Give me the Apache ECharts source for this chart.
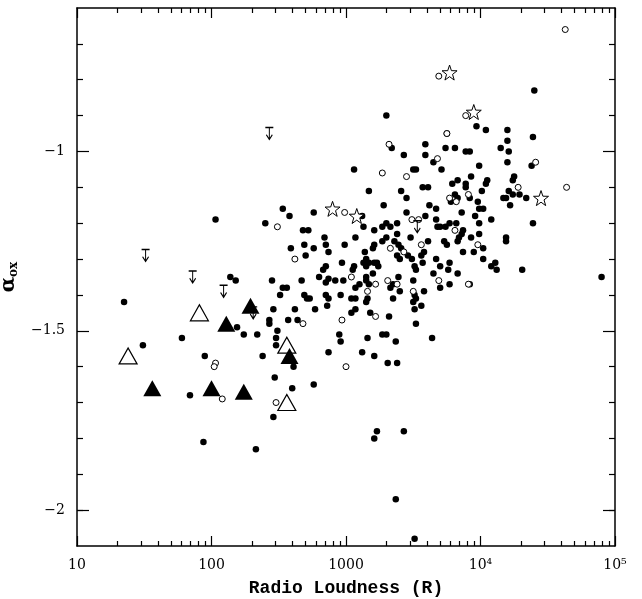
<!DOCTYPE html>
<html>
<head>
<meta charset="utf-8">
<script src="https://cdn.jsdelivr.net/npm/echarts@6/dist/echarts.min.js"></script>
<style>
  html, body { margin: 0; padding: 0; background: #fff; }
  #chart { width: 642px; height: 599px; }
</style>
</head>
<body>
<div id="chart"></div>
<script>
// values are [log10(R), alpha_ox]
var dots = [
  [1.35,-1.42],[1.78,-1.52],[1.49,-1.54],[1.95,-1.57],[1.84,-1.68],[1.94,-1.81],
  [2.03,-1.19],[2.40,-1.20],[2.53,-1.16],[2.58,-1.18],[2.76,-1.17],[2.68,-1.22],[2.72,-1.22],[2.84,-1.24],
  [2.59,-1.27],[2.69,-1.26],[2.76,-1.27],[2.85,-1.26],[2.87,-1.28],[2.70,-1.29],[2.99,-1.26],[2.97,-1.31],[2.85,-1.32],
  [2.14,-1.35],[2.18,-1.36],[2.19,-1.49],[2.24,-1.51],[2.34,-1.51],[2.33,-1.83],[2.45,-1.36],[2.53,-1.38],
  [2.56,-1.38],[2.51,-1.40],[2.46,-1.44],[2.62,-1.44],[2.43,-1.47],[2.43,-1.48],[2.49,-1.50],[2.57,-1.47],
  [2.64,-1.47],[2.48,-1.52],[2.48,-1.54],[2.38,-1.57],[2.61,-1.60],[2.47,-1.63],[2.60,-1.66],[2.76,-1.65],[2.46,-1.74],
  [2.67,-1.36],[2.80,-1.35],[2.83,-1.33],[2.85,-1.365],[2.87,-1.355],[2.92,-1.36],[2.69,-1.40],[2.71,-1.41],
  [2.73,-1.41],[2.77,-1.44],[2.85,-1.40],[2.87,-1.41],[2.86,-1.43],[2.96,-1.40],[2.98,-1.36],[2.95,-1.51],[2.96,-1.53],[2.87,-1.56],
  [3.30,-0.90],[3.34,-0.99],[3.43,-1.01],[3.06,-1.05],[3.50,-1.05],[3.17,-1.11],[3.41,-1.11],[3.45,-1.13],
  [3.28,-1.15],[3.12,-1.18],[3.45,-1.17],[3.13,-1.21],[3.21,-1.22],[3.27,-1.21],[3.30,-1.20],[3.33,-1.21],[3.38,-1.20],[3.38,-1.23],
  [3.07,-1.24],[3.27,-1.25],[3.30,-1.24],[3.36,-1.25],[3.48,-1.24],[3.39,-1.26],[3.41,-1.27],[3.20,-1.27],
  [3.21,-1.26],[3.14,-1.28],[3.38,-1.29],[3.40,-1.30],[3.46,-1.29],[3.49,-1.30],[3.51,-1.32],[3.52,-1.33],
  [3.13,-1.31],[3.15,-1.30],[3.17,-1.31],[3.21,-1.31],[3.23,-1.31],[3.24,-1.32],[3.06,-1.32],[3.05,-1.33],
  [3.15,-1.32],[3.39,-1.35],[3.15,-1.35],[3.15,-1.36],[3.20,-1.34],[3.17,-1.37],[3.07,-1.38],[3.10,-1.37],
  [3.33,-1.38],[3.35,-1.37],[3.40,-1.39],[3.50,-1.36],[3.04,-1.41],[3.07,-1.41],[3.15,-1.42],[3.16,-1.41],
  [3.35,-1.41],[3.52,-1.41],[3.50,-1.42],[3.04,-1.45],[3.07,-1.44],[3.18,-1.45],[3.32,-1.46],[3.52,-1.48],
  [3.27,-1.51],[3.30,-1.51],[3.16,-1.52],[3.37,-1.53],
  [3.12,-1.56],[3.21,-1.57],[3.31,-1.59],[3.38,-1.59],[3.23,-1.78],[3.21,-1.80],[3.43,-1.78],[3.37,-1.97],[3.51,-2.08],
  [3.97,-0.93],[4.04,-0.94],[3.75,-0.95],[4.15,-0.99],[3.59,-0.98],[3.81,-0.99],[3.74,-0.99],[3.89,-1.00],
  [3.92,-1.00],[3.59,-1.01],[3.65,-1.03],[3.71,-1.05],[3.99,-1.04],[3.52,-1.05],[3.93,-1.07],[4.05,-1.08],
  [4.04,-1.09],[3.83,-1.08],[3.79,-1.09],[3.89,-1.09],[3.89,-1.10],[3.57,-1.10],[3.61,-1.10],[3.81,-1.12],[4.01,-1.11],
  [3.92,-1.13],[3.78,-1.14],[3.83,-1.13],[3.98,-1.14],[3.99,-1.16],[4.02,-1.16],[3.62,-1.15],[3.67,-1.16],
  [3.86,-1.17],[3.96,-1.18],[3.59,-1.18],[3.67,-1.19],[3.77,-1.20],[3.82,-1.20],[4.08,-1.19],[3.68,-1.21],
  [3.70,-1.21],[3.74,-1.21],[3.87,-1.22],[3.86,-1.23],[3.99,-1.20],[3.99,-1.23],[3.93,-1.24],[3.83,-1.25],
  [3.84,-1.24],[3.61,-1.25],[3.73,-1.25],[3.75,-1.26],[3.95,-1.28],[4.02,-1.27],[4.02,-1.30],[3.87,-1.28],
  [3.58,-1.28],[3.56,-1.29],[3.57,-1.31],[3.67,-1.30],[3.70,-1.32],[3.77,-1.31],[3.76,-1.33],[4.11,-1.31],
  [4.08,-1.32],[4.12,-1.33],[3.83,-1.34],[3.65,-1.34],[3.77,-1.37],[3.92,-1.37],[3.70,-1.38],[3.58,-1.39],
  [3.51,-1.40],[3.56,-1.43],[3.51,-1.44],[3.64,-1.52],
  [4.40,-0.83],[4.20,-0.94],[4.20,-0.97],[4.21,-1.00],[4.39,-0.96],[4.20,-1.03],[4.38,-1.04],[4.25,-1.07],
  [4.24,-1.08],[4.21,-1.11],[4.24,-1.12],[4.29,-1.12],[4.19,-1.13],[4.17,-1.13],[4.22,-1.15],[4.34,-1.13],
  [4.39,-1.20],[4.19,-1.24],[4.19,-1.25],[4.31,-1.33],[4.90,-1.35]
];
var openCircles = [
  [2.49,-1.21],[2.62,-1.30],[2.03,-1.59],[2.02,-1.60],[2.08,-1.69],[2.68,-1.48],[2.48,-1.70],[2.97,-1.47],
  [3.00,-1.60],[2.99,-1.17],[3.32,-0.98],[3.27,-1.06],[3.45,-1.07],[3.49,-1.19],[3.54,-1.19],[3.33,-1.27],
  [3.43,-1.28],[3.04,-1.35],[3.31,-1.36],[3.22,-1.37],[3.16,-1.39],[3.38,-1.37],[3.50,-1.39],[3.22,-1.46],
  [3.69,-0.79],[3.89,-0.90],[3.75,-0.95],[3.68,-1.02],[3.91,-1.12],[3.77,-1.13],[3.82,-1.14],[3.81,-1.22],
  [3.56,-1.26],[3.98,-1.26],[3.69,-1.36],[3.91,-1.37],[4.63,-0.66],[4.41,-1.03],[4.28,-1.10],[4.64,-1.10]
];
var stars = [[2.90,-1.16],[3.08,-1.18],[3.77,-0.78],[3.95,-0.89],[4.45,-1.13]];
var openTriangles = [[1.38,-1.57],[1.91,-1.45],[2.56,-1.54],[2.56,-1.70]];
var filledTriangles = [[1.56,-1.66],[2.00,-1.66],[2.11,-1.48],[2.29,-1.43],[2.24,-1.67],[2.58,-1.57]];
var upperLimits = [[1.51,-1.29],[1.86,-1.35],[2.09,-1.39],[2.31,-1.45],[2.43,-0.95],[3.53,-1.21]];

var xTickLabels = ['10', '100', '1000', '10\u2074', '10\u2075'];
var yTickValues = [-2, -1.5, -1];
var yTickLabels = ['\u22122', '\u22121.5', '\u22121'];
var yMinorValues = [-2.0, -1.9, -1.8, -1.7, -1.6, -1.4, -1.3, -1.2, -1.1, -0.9, -0.8, -0.7];

// log-spaced minor ticks 2..9 in each decade
var xMinorValues = [];
for (var d = 1; d < 5; d++) {
    for (var k = 2; k <= 9; k++) {
        xMinorValues.push(d + Math.log10(k));
    }
}

var chart = echarts.init(document.getElementById('chart'));

function xAx(pos, major, labels) {
    var a = {
        type: 'value', position: pos, min: 1, max: 5,
        splitLine: { show: false },
        axisLine: { show: major, lineStyle: { color: '#000', width: 1.5 } },
        axisTick: { show: true, inside: true, length: major ? 10 : 5, lineStyle: { color: '#000', width: 1.2 } },
        axisLabel: { show: false }
    };
    if (major) {
        a.interval = 1;
    } else {
        a.axisTick.customValues = xMinorValues;
    }
    if (labels) {
        a.axisLabel = {
            show: true, color: '#000', fontFamily: 'DejaVu Serif', fontSize: 14, margin: 12,
            formatter: function (v) { return xTickLabels[Math.round(v) - 1]; }
        };
        a.name = 'Radio Loudness (R)';
        a.nameLocation = 'middle';
        a.nameGap = 33;
        a.nameTextStyle = { color: '#000', fontFamily: 'Liberation Mono', fontWeight: 'bold', fontSize: 18 };
    }
    return a;
}

function yAx(pos, major, labels) {
    var a = {
        type: 'value', position: pos, min: -2.1, max: -0.6,
        splitLine: { show: false },
        axisLine: { show: major, lineStyle: { color: '#000', width: 1.5 } },
        axisTick: { show: true, inside: true, length: major ? 12 : 6, lineStyle: { color: '#000', width: 1.2 },
            customValues: major ? yTickValues : yMinorValues },
        axisLabel: { show: false }
    };
    if (labels) {
        a.axisLabel = {
            show: true, color: '#000', fontFamily: 'DejaVu Serif', fontSize: 14, margin: 12,
            customValues: yTickValues,
            formatter: function (v) {
                var i = yTickValues.indexOf(Math.round(v * 10) / 10);
                return i >= 0 ? yTickLabels[i] : '';
            }
        };
        a.name = '{a|\u03b1}{s|ox}';
        a.nameLocation = 'middle';
        a.nameRotate = 90;
        a.nameGap = 50;
        a.nameTextStyle = {
            rich: {
                a: { fontFamily: 'DejaVu Serif', fontWeight: 'bold', fontSize: 20, color: '#000' },
                s: { fontFamily: 'DejaVu Serif', fontWeight: 'bold', fontSize: 12, color: '#000', padding: [10, 0, 0, 0] }
            }
        };
    }
    return a;
}

var option = {
    animation: false,
    backgroundColor: '#fff',
    grid: { left: 77, right: 27, top: 8, bottom: 53, containLabel: false, outerBoundsMode: 'none' },
    xAxis: [xAx('bottom', true, true), xAx('top', true, false), xAx('bottom', false, false), xAx('top', false, false)],
    yAxis: [yAx('left', true, true), yAx('right', true, false), yAx('left', false, false), yAx('right', false, false)],
    series: [
        {
            type: 'scatter', data: dots, symbol: 'circle', symbolSize: 6.5,
            itemStyle: { color: '#000', opacity: 1 }
        },
        {
            type: 'scatter', data: openCircles, symbol: 'circle', symbolSize: 6,
            itemStyle: { color: '#fff', borderColor: '#000', borderWidth: 1, opacity: 1 }
        },
        {
            type: 'scatter', data: stars, symbolSize: 15,
            symbol: 'path://M0,-10L2.35,-3.24L9.51,-3.09L3.8,1.24L5.88,8.09L0,4L-5.88,8.09L-3.8,1.24L-9.51,-3.09L-2.35,-3.24Z',
            itemStyle: { color: '#fff', borderColor: '#000', borderWidth: 1, opacity: 1 }
        },
        {
            type: 'scatter', data: openTriangles, symbol: 'triangle', symbolSize: [18, 16],
            itemStyle: { color: '#fff', borderColor: '#000', borderWidth: 1.2, opacity: 1 }
        },
        {
            type: 'scatter', data: filledTriangles, symbol: 'triangle', symbolSize: [18, 16],
            itemStyle: { color: '#000', opacity: 1 }
        },
        {
            type: 'scatter', data: upperLimits, symbolSize: [8, 12],
            symbol: 'path://M-4,0L4,0M0,0L0,10M-3,6L0,10L3,6',
            itemStyle: { color: 'transparent', borderColor: '#000', borderWidth: 1.2, opacity: 1 }
        }
    ]
};
chart.setOption(option);
</script>
</body>
</html>
